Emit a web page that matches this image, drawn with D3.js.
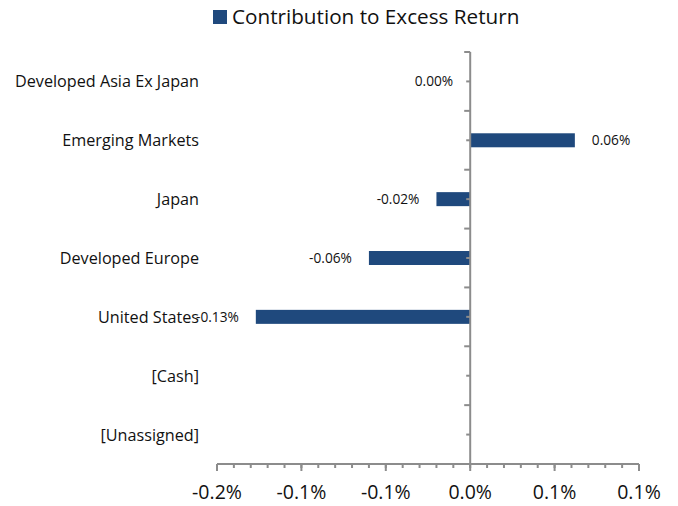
<!DOCTYPE html>
<html>
<head>
<meta charset="utf-8">
<script src="https://cdn.jsdelivr.net/npm/d3@7"></script>
<style>
  body { margin: 0; background: #fff; }
  text { font-family: "Open Sans", "Noto Sans", sans-serif; fill: #111; }
</style>
</head>
<body>
<div id="chart"></div>
<script>
// data
const categories = ["Developed Asia Ex Japan", "Emerging Markets", "Japan", "Developed Europe", "United States", "[Cash]", "[Unassigned]"];
const values = [0.000, 0.062, -0.020, -0.060, -0.127, null, null];
const valueLabels = ["0.00%", "0.06%", "-0.02%", "-0.06%", "-0.13%", "", ""];
const xTicks = [-0.15, -0.10, -0.05, 0, 0.05, 0.10];
const xTickLabels = ["-0.2%", "-0.1%", "-0.1%", "0.0%", "0.1%", "0.1%"];
const seriesName = "Contribution to Excess Return";

const width = 678, height = 506;
const plot = {left: 217, right: 639, top: 52, bottom: 464};
const barColor = "#1f497d";
const axisColor = "#8c8c8c";

const svg = d3.select("#chart").append("svg")
    .attr("width", width)
    .attr("height", height);

const x = d3.scaleLinear()
    .domain([-0.15, 0.10])
    .range([plot.left, plot.right]);

const y = d3.scaleBand()
    .domain(categories)
    .range([plot.top, plot.bottom]);

// bars
const rows = categories.map((c, i) => ({cat: c, v: values[i], label: valueLabels[i]}));
svg.append("g").selectAll("rect")
    .data(rows.filter(d => d.v !== null))
    .enter().append("rect")
    .attr("x", d => x(Math.min(0, d.v)))
    .attr("width", d => Math.abs(x(d.v) - x(0)))
    .attr("y", d => y(d.cat) + y.bandwidth() / 2 - 7)
    .attr("height", 14)
    .attr("fill", barColor);

// value labels
svg.append("g").selectAll("text")
    .data(rows.filter(d => d.v !== null))
    .enter().append("text")
    .attr("x", d => d.v > 0 ? x(d.v) + 17 : x(Math.min(0, d.v)) - 17)
    .attr("y", d => y(d.cat) + y.bandwidth() / 2 + 5)
    .attr("text-anchor", d => d.v > 0 ? "start" : "end")
    .style("font-size", "13.7px")
    .text(d => d.label);

// y axis line with ticks at boundaries (long) and centers (short)
const yAxis = svg.append("g");
yAxis.append("line")
    .attr("x1", x(0)).attr("x2", x(0))
    .attr("y1", plot.top).attr("y2", plot.bottom)
    .attr("stroke", axisColor).attr("stroke-width", 2);
yAxis.selectAll("line.major")
    .data(categories)
    .enter().append("line")
    .attr("class", "major")
    .attr("x1", x(0) - 6).attr("x2", x(0))
    .attr("y1", d => y(d)).attr("y2", d => y(d))
    .attr("stroke", axisColor).attr("stroke-width", 2);
yAxis.selectAll("line.minor")
    .data(categories)
    .enter().append("line")
    .attr("class", "minor")
    .attr("x1", x(0) - 4).attr("x2", x(0))
    .attr("y1", d => y(d) + y.bandwidth() / 2).attr("y2", d => y(d) + y.bandwidth() / 2)
    .attr("stroke", axisColor).attr("stroke-width", 2);

// category labels
svg.append("g").selectAll("text")
    .data(categories)
    .enter().append("text")
    .attr("x", 199)
    .attr("y", d => y(d) + y.bandwidth() / 2 + 6)
    .attr("text-anchor", "end")
    .style("font-size", "16.2px")
    .text(d => d);

// x axis
const xAxis = svg.append("g");
xAxis.append("line")
    .attr("x1", plot.left).attr("x2", plot.right)
    .attr("y1", plot.bottom).attr("y2", plot.bottom)
    .attr("stroke", axisColor).attr("stroke-width", 2);
const minorTicks = d3.range(-0.15, 0.1001, 0.01);
xAxis.selectAll("line.minor")
    .data(minorTicks)
    .enter().append("line")
    .attr("class", "minor")
    .attr("x1", d => x(d)).attr("x2", d => x(d))
    .attr("y1", plot.bottom).attr("y2", plot.bottom + 4)
    .attr("stroke", axisColor).attr("stroke-width", 2);
xAxis.selectAll("line.major")
    .data(xTicks)
    .enter().append("line")
    .attr("class", "major")
    .attr("x1", d => x(d)).attr("x2", d => x(d))
    .attr("y1", plot.bottom).attr("y2", plot.bottom + 7)
    .attr("stroke", axisColor).attr("stroke-width", 2);
xAxis.selectAll("text")
    .data(xTicks)
    .enter().append("text")
    .attr("x", d => x(d))
    .attr("y", 499)
    .attr("text-anchor", "middle")
    .style("font-size", "19.5px")
    .text((d, i) => xTickLabels[i]);

// legend
const legend = svg.append("g");
legend.append("rect")
    .attr("x", 213).attr("y", 10)
    .attr("width", 14).attr("height", 14)
    .attr("fill", barColor);
legend.append("text")
    .attr("x", 232).attr("y", 24)
    .style("font-size", "20.7px")
    .text(seriesName);
</script>
</body>
</html>
